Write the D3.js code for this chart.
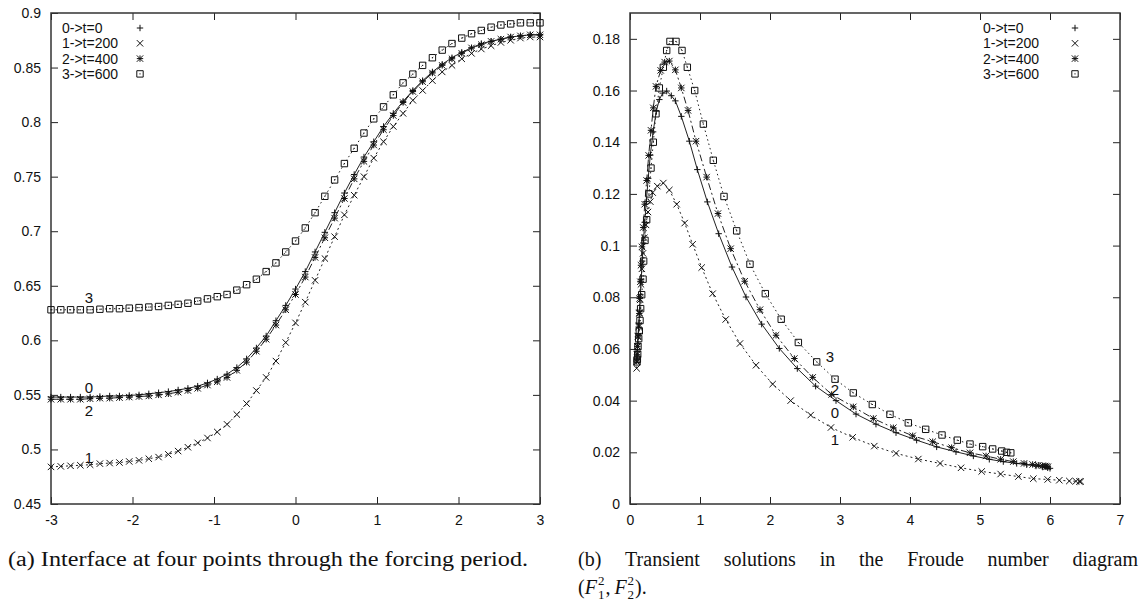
<!DOCTYPE html>
<html lang="en">
<head>
<meta charset="UTF-8">
<title>Interface and Froude number diagram</title>
<script src="https://d3js.org/d3.v7.min.js"></script>
<style>
  body { margin: 0; background: #fff; }
  svg { display: block; }
  text { font-family: "Liberation Sans", Arial, sans-serif; fill: #111; }
  .caption { font-family: "Liberation Serif", "Times New Roman", serif; fill: #111; }
</style>
</head>
<body>
<div id="chart"></div>
<script>
// ---- data ----
const gridX = [-3, -2.88, -2.76, -2.64, -2.52, -2.4, -2.28, -2.16, -2.04, -1.92,
  -1.8, -1.68, -1.56, -1.44, -1.32, -1.2, -1.08, -0.96, -0.84, -0.72,
  -0.6, -0.48, -0.36, -0.24, -0.12, 0, 0.12, 0.24, 0.36, 0.48,
  0.6, 0.72, 0.84, 0.96, 1.08, 1.2, 1.32, 1.44, 1.56, 1.68,
  1.8, 1.92, 2.04, 2.16, 2.28, 2.4, 2.52, 2.64, 2.76, 2.88, 3];

const interface0 = [0.548, 0.548, 0.548, 0.548, 0.548, 0.5485, 0.549, 0.549, 0.5495, 0.550,
  0.551, 0.552, 0.553, 0.5545, 0.556, 0.558, 0.561, 0.5645, 0.569, 0.575,
  0.583, 0.593, 0.604, 0.618, 0.632, 0.647, 0.663, 0.681, 0.699, 0.717,
  0.735, 0.752, 0.768, 0.782, 0.796, 0.808, 0.819, 0.829, 0.838, 0.846,
  0.853, 0.859, 0.864, 0.868, 0.872, 0.874, 0.876, 0.878, 0.879, 0.880, 0.880];

const interface1 = [0.484, 0.4845, 0.485, 0.4855, 0.486, 0.487, 0.4875, 0.488, 0.489, 0.490,
  0.4915, 0.493, 0.4955, 0.4985, 0.502, 0.506, 0.5105, 0.516, 0.523, 0.532,
  0.542, 0.554, 0.566, 0.581, 0.598, 0.616, 0.635, 0.655, 0.675, 0.695,
  0.715, 0.733, 0.750, 0.767, 0.782, 0.796, 0.808, 0.820, 0.829, 0.838,
  0.846, 0.852, 0.858, 0.863, 0.867, 0.870, 0.873, 0.875, 0.877, 0.878, 0.878];

const interface2 = [0.546, 0.546, 0.546, 0.546, 0.5465, 0.547, 0.547, 0.5475, 0.548, 0.5485,
  0.549, 0.550, 0.551, 0.5525, 0.554, 0.556, 0.559, 0.562, 0.566, 0.5725,
  0.580, 0.590, 0.601, 0.614, 0.628, 0.642, 0.658, 0.676, 0.694, 0.712,
  0.730, 0.748, 0.764, 0.779, 0.793, 0.806, 0.818, 0.828, 0.837, 0.845,
  0.852, 0.858, 0.863, 0.868, 0.871, 0.874, 0.876, 0.878, 0.879, 0.880, 0.880];

const interface3 = [0.628, 0.628, 0.628, 0.628, 0.628, 0.6285, 0.629, 0.629, 0.6295, 0.630,
  0.6305, 0.631, 0.632, 0.633, 0.634, 0.636, 0.638, 0.640, 0.642, 0.646,
  0.651, 0.656, 0.663, 0.671, 0.681, 0.691, 0.703, 0.717, 0.732, 0.747,
  0.762, 0.776, 0.790, 0.803, 0.814, 0.825, 0.836, 0.844, 0.852, 0.859,
  0.866, 0.872, 0.877, 0.881, 0.884, 0.887, 0.889, 0.890, 0.891, 0.891, 0.891];

// Froude diagram trajectories, [F1^2, F2^2]
const froude0 = [[0.1, 0.056], [0.105, 0.059], [0.11, 0.062], [0.119, 0.066], [0.128, 0.070],
  [0.138, 0.075], [0.148, 0.081], [0.160, 0.087], [0.174, 0.094], [0.19, 0.101],
  [0.21, 0.109], [0.233, 0.117], [0.26, 0.126], [0.29, 0.135], [0.33, 0.144],
  [0.376, 0.152], [0.419, 0.1565], [0.467, 0.159], [0.524, 0.1598], [0.59, 0.158],
  [0.648, 0.156], [0.733, 0.150], [0.848, 0.1404], [0.962, 0.1294], [1.105, 0.1169],
  [1.267, 0.1046], [1.457, 0.0917], [1.657, 0.0801], [1.881, 0.0696], [2.133, 0.0602],
  [2.39, 0.0524], [2.652, 0.0456], [2.943, 0.040], [3.229, 0.0348], [3.514, 0.0309],
  [3.8, 0.0276], [4.095, 0.0247], [4.381, 0.0221], [4.657, 0.0202], [4.905, 0.0186],
  [5.133, 0.0173], [5.333, 0.0164], [5.524, 0.0157], [5.667, 0.0152], [5.8, 0.0147],
  [5.895, 0.0143], [5.967, 0.0140], [6.0, 0.0138]];

const froude1 = [[0.095, 0.0525], [0.1, 0.055], [0.105, 0.058], [0.11, 0.061], [0.118, 0.065],
  [0.126, 0.069], [0.135, 0.074], [0.145, 0.079], [0.157, 0.085], [0.17, 0.091],
  [0.186, 0.097], [0.205, 0.103], [0.229, 0.108], [0.257, 0.113], [0.29, 0.117],
  [0.324, 0.1205], [0.39, 0.123], [0.476, 0.1242], [0.562, 0.1215], [0.667, 0.116],
  [0.781, 0.1087], [0.895, 0.1005], [1.024, 0.0915], [1.181, 0.0814], [1.367, 0.0714],
  [1.571, 0.0621], [1.8, 0.0537], [2.038, 0.0464], [2.295, 0.040], [2.581, 0.0344],
  [2.871, 0.0296], [3.181, 0.0258], [3.49, 0.0224], [3.8, 0.0196], [4.119, 0.0174],
  [4.429, 0.0157], [4.729, 0.0140], [5.024, 0.0126], [5.295, 0.0116], [5.548, 0.0106],
  [5.762, 0.0098], [5.967, 0.0095], [6.133, 0.0092], [6.276, 0.0089], [6.371, 0.0088],
  [6.42, 0.0087], [6.44, 0.0087]];

const froude2 = [[0.095, 0.0553], [0.1, 0.0578], [0.105, 0.061], [0.114, 0.0647], [0.124, 0.0685],
  [0.133, 0.0737], [0.138, 0.0795], [0.148, 0.086], [0.157, 0.0924], [0.171, 0.0995],
  [0.19, 0.107], [0.21, 0.116], [0.238, 0.1252], [0.267, 0.1349], [0.3, 0.1446],
  [0.333, 0.1533], [0.371, 0.1616], [0.438, 0.1678], [0.495, 0.171], [0.562, 0.1714],
  [0.648, 0.168], [0.733, 0.161], [0.829, 0.1523], [0.943, 0.1404], [1.095, 0.1265],
  [1.257, 0.1124], [1.438, 0.0988], [1.638, 0.0862], [1.857, 0.0752], [2.086, 0.0653],
  [2.348, 0.0563], [2.61, 0.049], [2.881, 0.0424], [3.19, 0.0376], [3.476, 0.0331],
  [3.762, 0.0295], [4.038, 0.0264], [4.324, 0.0241], [4.595, 0.0218], [4.857, 0.0198],
  [5.086, 0.0186], [5.295, 0.0173], [5.476, 0.0164], [5.629, 0.0157], [5.752, 0.0153],
  [5.833, 0.0150], [5.895, 0.0148], [5.93, 0.0147], [5.952, 0.0145], [5.97, 0.0144]];

const froude3 = [[0.1, 0.055], [0.105, 0.056], [0.11, 0.058], [0.114, 0.061], [0.124, 0.064],
  [0.133, 0.067], [0.143, 0.071], [0.152, 0.0756], [0.167, 0.081], [0.186, 0.087],
  [0.195, 0.094], [0.214, 0.102], [0.238, 0.110], [0.271, 0.120], [0.3, 0.130],
  [0.333, 0.140], [0.371, 0.151], [0.419, 0.161], [0.476, 0.169], [0.524, 0.1755],
  [0.571, 0.179], [0.657, 0.179], [0.743, 0.1755], [0.819, 0.169], [0.924, 0.160],
  [1.048, 0.147], [1.19, 0.133], [1.343, 0.119], [1.524, 0.1057], [1.714, 0.0928],
  [1.933, 0.0814], [2.16, 0.0715], [2.405, 0.0625], [2.667, 0.055], [2.929, 0.0483],
  [3.19, 0.043], [3.462, 0.0385], [3.714, 0.0347], [3.976, 0.0314], [4.224, 0.0289],
  [4.457, 0.0267], [4.676, 0.0247], [4.857, 0.0232], [5.038, 0.0222], [5.181, 0.0213],
  [5.31, 0.0205], [5.38, 0.0200], [5.44, 0.0198]];

const legendLabels = ["0->t=0", "1->t=200", "2->t=400", "3->t=600"];
const markerTypes = ["plus", "cross", "star", "square"];
const curveNames = ["0", "1", "2", "3"];

const leftXTicks = [-3, -2, -1, 0, 1, 2, 3];
const leftYTicks = [0.45, 0.5, 0.55, 0.6, 0.65, 0.7, 0.75, 0.8, 0.85, 0.9];
const rightXTicks = [0, 1, 2, 3, 4, 5, 6, 7];
const rightYTicks = [0, 0.02, 0.04, 0.06, 0.08, 0.1, 0.12, 0.14, 0.16, 0.18];

const captionA = "(a) Interface at four points through the forcing period.";
const captionBWords = ["(b)", "Transient", "solutions", "in", "the", "Froude", "number", "diagram"];

// ---- drawing ----
const W = 1146, H = 606;
const dashes = [null, "2,3", "7,3,2,3", "1.5,3"];

const svg = d3.select("#chart").append("svg")
    .attr("width", W)
    .attr("height", H);

function markerPath(type, r) {
    const plus = `M${-r},0H${r}M0,${-r}V${r}`;
    const cross = `M${-r},${-r}L${r},${r}M${-r},${r}L${r},${-r}`;
    if (type === "plus") return plus;
    if (type === "cross") return cross;
    if (type === "star") return plus + cross;
    return `M${-r},${-r}H${r}V${r}H${-r}Z M-0.6,0H0.6`;
}

function drawPanel(p) {
    const g = svg.append("g");
    const x = d3.scaleLinear().domain(p.xDomain).range([p.left, p.right]);
    const y = d3.scaleLinear().domain(p.yDomain).range([p.bottom, p.top]);

    // axes with inward ticks, mirrored on top/right like gnuplot
    const bottom = g.append("g")
        .attr("transform", `translate(0,${p.bottom})`)
        .call(d3.axisBottom(x).tickValues(p.xTicks).tickSizeInner(-7).tickSizeOuter(0)
            .tickPadding(11).tickFormat(d => String(d)));
    const left = g.append("g")
        .attr("transform", `translate(${p.left},0)`)
        .call(d3.axisLeft(y).tickValues(p.yTicks).tickSizeInner(-7).tickSizeOuter(0)
            .tickPadding(10).tickFormat(d => String(d)));
    g.append("g")
        .attr("transform", `translate(0,${p.top})`)
        .call(d3.axisTop(x).tickValues(p.xTicks).tickSizeInner(-7).tickSizeOuter(0).tickFormat(""));
    g.append("g")
        .attr("transform", `translate(${p.right},0)`)
        .call(d3.axisRight(y).tickValues(p.yTicks).tickSizeInner(-7).tickSizeOuter(0).tickFormat(""));

    g.selectAll(".domain").remove();
    g.selectAll(".tick line").attr("stroke", "#222").attr("stroke-width", 1);
    g.selectAll(".tick text")
        .attr("fill", "#111")
        .style("font-family", "'Liberation Sans', Arial, sans-serif")
        .style("font-size", "14px");

    g.append("rect")
        .attr("x", p.left)
        .attr("y", p.top)
        .attr("width", p.right - p.left)
        .attr("height", p.bottom - p.top)
        .attr("fill", "none")
        .attr("stroke", "#333")
        .attr("stroke-width", 1.5);

    const line = d3.line().x(d => x(d[0])).y(d => y(d[1]));

    p.series.forEach((data, i) => {
        g.append("path")
            .datum(data)
            .attr("fill", "none")
            .attr("stroke", "#222")
            .attr("stroke-width", 1)
            .attr("stroke-dasharray", dashes[i])
            .attr("d", line);

        g.selectAll(null)
            .data(data)
            .enter()
            .append("path")
            .attr("transform", d => `translate(${x(d[0])},${y(d[1])})`)
            .attr("d", markerPath(markerTypes[i], 3.2))
            .attr("fill", "none")
            .attr("stroke", "#111")
            .attr("stroke-width", 1);
    });

    // legend: label + sample symbol only
    legendLabels.forEach((label, i) => {
        const ly = p.top + 15 + i * 15.3;
        g.append("text")
            .attr("x", p.legendText)
            .attr("y", ly + 5)
            .style("font-size", "14px")
            .text(label);
        g.append("path")
            .attr("transform", `translate(${p.legendSymbol},${ly})`)
            .attr("d", markerPath(markerTypes[i], 3.2))
            .attr("fill", "none")
            .attr("stroke", "#111")
            .attr("stroke-width", 1);
    });

    // curve numbers
    p.curveLabels.forEach(c => {
        g.append("text")
            .attr("x", c.x)
            .attr("y", c.y + 5)
            .attr("text-anchor", "middle")
            .style("font-size", "15px")
            .text(curveNames[c.k]);
    });
}

drawPanel({
    left: 51, right: 540, top: 13, bottom: 504,
    xDomain: [-3, 3], yDomain: [0.45, 0.9],
    xTicks: leftXTicks, yTicks: leftYTicks,
    series: [interface0, interface1, interface2, interface3].map(ys => gridX.map((v, i) => [v, ys[i]])),
    legendText: 62, legendSymbol: 140,
    curveLabels: [{k: 3, x: 89, y: 298}, {k: 0, x: 89, y: 388}, {k: 2, x: 89, y: 411}, {k: 1, x: 89, y: 458}]
});

drawPanel({
    left: 630, right: 1120, top: 13, bottom: 504,
    xDomain: [0, 7], yDomain: [0, 0.19],
    xTicks: rightXTicks, yTicks: rightYTicks,
    series: [froude0, froude1, froude2, froude3],
    legendText: 983, legendSymbol: 1075,
    curveLabels: [{k: 3, x: 830, y: 357}, {k: 2, x: 835, y: 390}, {k: 0, x: 835, y: 413}, {k: 1, x: 835, y: 440}]
});

// captions
svg.append("text")
    .attr("class", "caption")
    .attr("x", 8)
    .attr("y", 566)
    .attr("textLength", 520)
    .attr("lengthAdjust", "spacingAndGlyphs")
    .style("font-size", "20px")
    .text(captionA);

// justified first line of caption (b)
const words = captionBWords.map(w => svg.append("text")
    .attr("class", "caption")
    .attr("y", 566)
    .style("font-size", "20px")
    .text(w));
const widths = words.map(n => n.node().getComputedTextLength());
const gap = (1138 - 578 - d3.sum(widths)) / (words.length - 1);
let cx = 578;
words.forEach((n, i) => { n.attr("x", cx); cx += widths[i] + gap; });

// second line: (F_1^2, F_2^2).
const line2 = svg.append("g").attr("class", "caption");
let lx = 578;
function put(str, opts) {
    const t = line2.append("text")
        .attr("class", "caption")
        .attr("x", lx)
        .attr("y", opts.y)
        .style("font-size", opts.size + "px")
        .style("font-style", opts.italic ? "italic" : "normal")
        .text(str);
    return t.node().getComputedTextLength();
}
lx += put("(", {y: 594, size: 20});
lx += put("F", {y: 594, size: 20, italic: true}) + 1;
let wSup = put("2", {y: 585, size: 13});
put("1", {y: 599, size: 13});
lx += wSup + 1;
lx += put(",", {y: 594, size: 20}) + 4;
lx += put("F", {y: 594, size: 20, italic: true}) + 1;
wSup = put("2", {y: 585, size: 13});
put("2", {y: 599, size: 13});
lx += wSup + 1;
put(").", {y: 594, size: 20});
</script>
</body>
</html>
